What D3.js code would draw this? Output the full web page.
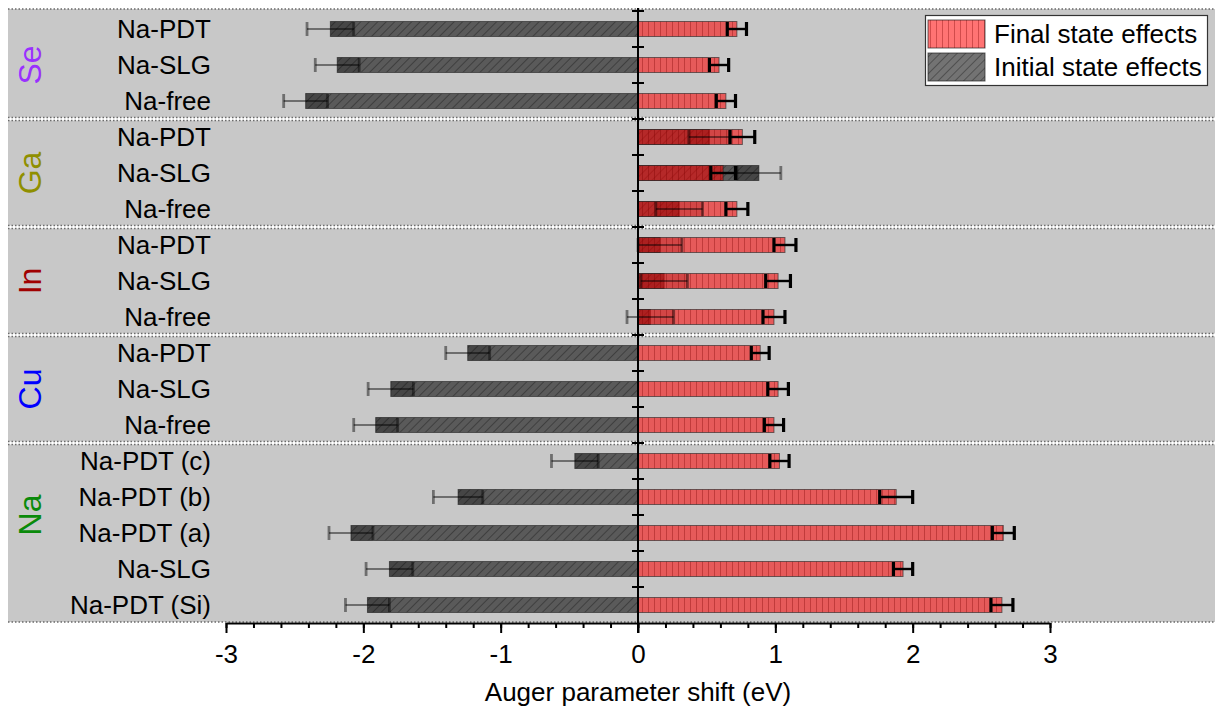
<!DOCTYPE html>
<html>
<head>
<meta charset="utf-8">
<script src="https://cdn.jsdelivr.net/npm/d3@7"></script>
<style>
  body { margin: 0; background: #fff; }
  svg { display: block; }
  text { font-family: "Liberation Sans", Arial, sans-serif; fill: #000; }
</style>
</head>
<body>
<svg id="chart" width="1215" height="715"></svg>
<script>
// ---- data -------------------------------------------------------------
const groups = ["Se", "Ga", "In", "Cu", "Na"];
const groupColors = ["#9a30ff", "#8f8f00", "#a00000", "#0000ff", "#0a8a0a"];

const rowLabels = [
  "Na-PDT", "Na-SLG", "Na-free",
  "Na-PDT", "Na-SLG", "Na-free",
  "Na-PDT", "Na-SLG", "Na-free",
  "Na-PDT", "Na-SLG", "Na-free",
  "Na-PDT (c)", "Na-PDT (b)", "Na-PDT (a)", "Na-SLG", "Na-PDT (Si)"
];
const rowGroups = [
  "Se", "Se", "Se",
  "Ga", "Ga", "Ga",
  "In", "In", "In",
  "Cu", "Cu", "Cu",
  "Na", "Na", "Na", "Na", "Na"
];

// final state effects (eV) and their uncertainties
const finalValues = [0.72, 0.59, 0.64, 0.76, 0.62, 0.72, 1.07, 1.02, 0.99, 0.89, 1.02, 0.99, 1.03, 1.88, 2.66, 1.93, 2.65];
const finalErrors = [0.07, 0.07, 0.07, 0.09, 0.09, 0.08, 0.08, 0.09, 0.08, 0.065, 0.075, 0.07, 0.07, 0.12, 0.08, 0.07, 0.08];

// initial state effects (eV) and their uncertainties
const initialValues = [-2.24, -2.19, -2.42, 0.52, 0.88, 0.30, 0.16, 0.19, 0.09, -1.24, -1.80, -1.91, -0.46, -1.31, -2.09, -1.81, -1.97];
const initialErrors = [0.17, 0.16, 0.16, 0.15, 0.16, 0.17, 0.16, 0.17, 0.17, 0.16, 0.165, 0.16, 0.17, 0.18, 0.16, 0.17, 0.16];

const xTicks = [-3, -2, -1, 0, 1, 2, 3];
const xTitle = "Auger parameter shift (eV)";
const legendLabels = ["Final state effects", "Initial state effects"];

// ---- layout -----------------------------------------------------------
const svg = d3.select("#chart");
const rows = d3.range(rowLabels.length);

const x = d3.scaleLinear().domain([-3, 3]).range([226, 1050]);
const y = d3.scaleBand().domain(rows).range([11, 623]);
const barH = 15;
const yMid = i => y(i) + y.bandwidth() / 2;
const fontMain = 26;

// ---- fill patterns ----------------------------------------------------
const defs = svg.append("defs");

const pRed = defs.append("pattern").attr("id", "finalFill")
  .attr("patternUnits", "userSpaceOnUse").attr("width", 6).attr("height", 6);
pRed.append("rect").attr("width", 6).attr("height", 6)
  .attr("fill", "#ff0000").attr("fill-opacity", 0.55);
pRed.append("line").attr("x1", 0.5).attr("x2", 0.5).attr("y1", 0).attr("y2", 6)
  .attr("stroke", "#7a0000").attr("stroke-opacity", 0.35).attr("stroke-width", 1);

const pGray = defs.append("pattern").attr("id", "initialFill")
  .attr("patternUnits", "userSpaceOnUse").attr("width", 6).attr("height", 6)
  .attr("patternTransform", "rotate(45)");
pGray.append("rect").attr("width", 6).attr("height", 6)
  .attr("fill", "#000").attr("fill-opacity", 0.55);
pGray.append("line").attr("x1", 0.5).attr("x2", 0.5).attr("y1", 0).attr("y2", 6)
  .attr("stroke", "#000").attr("stroke-opacity", 0.3).attr("stroke-width", 1);

// ---- group panels -----------------------------------------------------
const groupInfo = groups.map((g, gi) => {
  const idx = rows.filter(i => rowGroups[i] === g);
  return { name: g, color: groupColors[gi], first: idx[0], last: idx[idx.length - 1], n: idx.length };
});

const panels = svg.append("g");
groupInfo.forEach((gr, gi) => {
  const top = y(gr.first) + (gi === 0 ? -2 : 1.5);
  const bottom = y(gr.last) + y.bandwidth() - (gi === groupInfo.length - 1 ? 1 : 1.5);
  panels.append("rect")
    .attr("x", 8).attr("y", top).attr("width", 1215 - 8).attr("height", bottom - top)
    .attr("fill", "#c8c8c8");
  [top, bottom].forEach(yy => {
    panels.append("line")
      .attr("x1", 8).attr("x2", 1215).attr("y1", yy).attr("y2", yy)
      .attr("stroke", "#6a6a6a").attr("stroke-width", 1.4)
      .attr("stroke-dasharray", "1.5,2");
  });
});

// ---- bars -------------------------------------------------------------
const bars = svg.append("g");

// initial state bars
bars.selectAll("rect.initial").data(rows).join("rect")
  .attr("class", "initial")
  .attr("x", i => x(Math.min(0, initialValues[i])))
  .attr("width", i => Math.abs(x(initialValues[i]) - x(0)))
  .attr("y", i => yMid(i) - barH / 2)
  .attr("height", barH)
  .attr("fill", "url(#initialFill)")
  .attr("stroke", "#222").attr("stroke-opacity", 0.6).attr("stroke-width", 1);

// uncertainty band of the initial state values, shown where bars lie
bars.selectAll("rect.band").data(rows).join("rect")
  .attr("class", "band")
  .each(function (i) {
    const lo = Math.min(0, initialValues[i], finalValues[i]);
    const hi = Math.max(0, initialValues[i], finalValues[i]);
    const a = Math.max(lo, initialValues[i] - initialErrors[i]);
    const b = Math.min(hi, initialValues[i] + initialErrors[i]);
    d3.select(this)
      .attr("x", x(a)).attr("width", Math.max(0, x(b) - x(a)))
      .attr("y", yMid(i) - barH / 2).attr("height", barH);
  })
  .attr("fill", "#000").attr("fill-opacity", 0.22);

// final state bars
bars.selectAll("rect.final").data(rows).join("rect")
  .attr("class", "final")
  .attr("x", i => x(Math.min(0, finalValues[i])))
  .attr("width", i => Math.abs(x(finalValues[i]) - x(0)))
  .attr("y", i => yMid(i) - barH / 2)
  .attr("height", barH)
  .attr("fill", "url(#finalFill)")
  .attr("stroke", "#222").attr("stroke-opacity", 0.6).attr("stroke-width", 1);

// ---- error bars -------------------------------------------------------
function errorBars(cls, values, errors, color, opacity, width) {
  const g = svg.append("g").attr("class", cls)
    .attr("stroke", color).attr("stroke-opacity", opacity);
  g.selectAll("line.whisker").data(rows).join("line")
    .attr("class", "whisker")
    .attr("x1", i => x(values[i] - errors[i]))
    .attr("x2", i => x(values[i] + errors[i]))
    .attr("y1", i => yMid(i)).attr("y2", i => yMid(i))
    .attr("stroke-width", width);
  [-1, 1].forEach(s => {
    g.selectAll("line.cap" + (s > 0 ? "p" : "m")).data(rows).join("line")
      .attr("class", "cap" + (s > 0 ? "p" : "m"))
      .attr("x1", i => x(values[i] + s * errors[i]))
      .attr("x2", i => x(values[i] + s * errors[i]))
      .attr("y1", i => yMid(i) - 7).attr("y2", i => yMid(i) + 7)
      .attr("stroke-width", width + 0.8);
  });
}
errorBars("err-initial", initialValues, initialErrors, "#000", 0.45, 2);
errorBars("err-final", finalValues, finalErrors, "#000", 1, 2.4);

// ---- axes -------------------------------------------------------------
// zero line with row-boundary ticks
const yAxis = svg.append("g");
yAxis.append("line")
  .attr("x1", x(0)).attr("x2", x(0)).attr("y1", 8).attr("y2", 633)
  .attr("stroke", "#000").attr("stroke-width", 2);
yAxis.selectAll("line.rtick").data(rows).join("line")
  .attr("class", "rtick")
  .attr("x1", x(0) - 6).attr("x2", x(0) + 6)
  .attr("y1", i => y(i)).attr("y2", i => y(i))
  .attr("stroke", "#000").attr("stroke-width", 2);

// bottom axis: minor ticks every 0.2, major at integers
const axisY = 623;
const minor = svg.append("g").attr("transform", `translate(0,${axisY})`)
  .call(d3.axisBottom(x).tickValues(d3.range(-30, 31, 2).map(v => v / 10)).tickSize(5).tickSizeOuter(0).tickFormat(""));
minor.select(".domain").remove();
minor.selectAll("line").attr("stroke-width", 2);

const major = svg.append("g").attr("transform", `translate(0,${axisY})`)
  .call(d3.axisBottom(x).tickValues(xTicks).tickSize(10).tickSizeOuter(0).tickPadding(12).tickFormat(d3.format("d")));
major.select(".domain").attr("stroke-width", 2);
major.selectAll("line").attr("stroke-width", 2);
major.selectAll("text")
  .attr("font-size", fontMain).attr("font-family", "Liberation Sans, Arial, sans-serif")
  .text(d => (d < 0 ? "-" + Math.abs(d) : String(d)));

svg.append("text")
  .attr("x", x(0)).attr("y", 701)
  .attr("text-anchor", "middle").attr("font-size", fontMain)
  .text(xTitle);

// ---- row and group labels ---------------------------------------------
svg.append("g").selectAll("text").data(rows).join("text")
  .attr("x", 211).attr("y", i => yMid(i) + 9)
  .attr("text-anchor", "end").attr("font-size", fontMain)
  .text(i => rowLabels[i]);

groupInfo.forEach(gr => {
  let cy = (yMid(gr.first) + yMid(gr.last)) / 2;
  if (gr.n > 3) cy -= y.step() / 2;
  svg.append("text")
    .attr("transform", `translate(41,${cy}) rotate(-90)`)
    .attr("text-anchor", "middle")
    .attr("font-size", 32)
    .style("fill", gr.color)
    .text(gr.name);
});

// ---- legend -----------------------------------------------------------
const lg = svg.append("g");
lg.append("rect").attr("x", 925.5).attr("y", 15.5).attr("width", 282).attr("height", 70)
  .attr("fill", "#fff").attr("stroke", "#333").attr("stroke-width", 1.2);
const legendFills = ["url(#finalFill)", "url(#initialFill)"];
legendLabels.forEach((lab, k) => {
  const top = 20 + k * 33;
  lg.append("rect").attr("x", 928).attr("y", top).attr("width", 57).attr("height", 28)
    .attr("fill", legendFills[k]).attr("stroke", "#222").attr("stroke-opacity", 0.7);
  lg.append("text").attr("x", 994).attr("y", top + 23)
    .attr("font-size", fontMain).text(lab);
});
</script>
</body>
</html>
